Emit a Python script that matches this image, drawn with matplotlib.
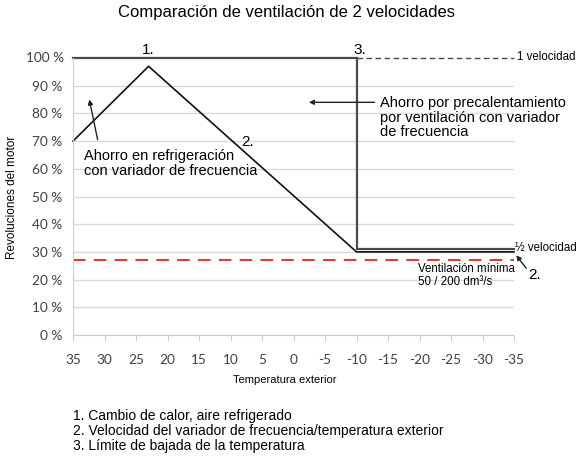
import matplotlib
matplotlib.use("Agg")
import matplotlib.pyplot as plt

plt.rcParams["font.family"] = ["Liberation Sans", "DejaVu Sans"]

# data
temp_vfd = [35, 23, -10, -35]          # variador de frecuencia
speed_vfd = [70, 97, 30, 30]
temp_1v = [35, -10]                    # 1 velocidad
speed_1v = [100, 100]
temp_1v_dash = [-10, -35]
speed_1v_dash = [100, 100]
temp_2v = [-10, -10, -35]              # 2 velocidades
speed_2v = [100, 31.2, 31.2]
temp_min = [35, -35]                   # ventilación mínima
speed_min = [27, 27]

x_ticks = [35, 30, 25, 20, 15, 10, 5, 0, -5, -10, -15, -20, -25, -30, -35]
x_labels = [str(v) for v in x_ticks]
y_ticks = [0, 10, 20, 30, 40, 50, 60, 70, 80, 90, 100]
y_labels = [f"{v} %" for v in y_ticks]

W, H = 580, 461
fig = plt.figure(figsize=(W / 100, H / 100), dpi=100)
ax = fig.add_axes([73 / W, 1 - 335 / H, 441 / W, 277 / H])

ax.set_xlim(35, -35)
ax.set_ylim(0, 100)
ax.set_yticks(y_ticks[:-1])
ax.set_yticklabels(y_labels[:-1])
ax.set_xticks(x_ticks)
ax.set_xticklabels(x_labels)
ax.grid(axis="y", color="#d9d9d9", linewidth=1.0)
ax.set_axisbelow(True)
for s in ["top", "right"]:
    ax.spines[s].set_visible(False)
for s in ["left", "bottom"]:
    ax.spines[s].set_color("#d0d0d0")
ax.tick_params(axis="y", length=0, pad=8, labelsize=9.8, labelcolor="#404040")
ax.tick_params(axis="x", length=4, color="#d0d0d0", pad=10, labelsize=9.8, labelcolor="#404040")
for lab in ax.get_xticklabels() + ax.get_yticklabels():
    lab.set_family(["Lato", "DejaVu Sans"])
# 100 % label drawn separately (axis top edge)
ax.text(-0.02, 100, y_labels[-1], transform=ax.get_yaxis_transform(), ha="right", va="center",
        fontsize=9.8, color="#404040", family=["Lato", "DejaVu Sans"])

ax.plot(temp_min, speed_min, color="#e03c31", linewidth=1.5, dashes=(6, 4))
ax.plot(temp_vfd, speed_vfd, color="#111111", linewidth=1.2, clip_on=False)
ax.plot(temp_2v, speed_2v, color="#4a4a4a", linewidth=1.6, solid_joinstyle="miter", clip_on=False)
ax.plot(temp_1v, speed_1v, color="#4a4a4a", linewidth=1.6, clip_on=False)
ax.plot(temp_1v_dash, speed_1v_dash, color="#4a4a4a", linewidth=1.0, dashes=(4, 2.5), clip_on=False)

ax.text(23, 100.5, "1.", ha="center", va="bottom", fontsize=11)
ax.text(8.3, 69.5, "2.", ha="left", va="center", fontsize=11)
ax.text(-10.5, 100.5, "3.", ha="center", va="bottom", fontsize=11)

ax.text(33.2, 62, "Ahorro en refrigeración\ncon variador de frecuencia", ha="left", va="center",
        fontsize=10.5, linespacing=1.05)
ax.annotate("", xy=(32.5, 86), xytext=(31.0, 69.5),
            arrowprops=dict(arrowstyle="-|>", color="#222222", lw=1.0, mutation_scale=7))

ax.text(-13.8, 78.5, "Ahorro por precalentamiento\npor ventilación con variador\nde frecuencia",
        ha="left", va="center", fontsize=10.5, linespacing=1.05)
ax.annotate("", xy=(-2.0, 84), xytext=(-13.3, 84),
            arrowprops=dict(arrowstyle="-|>", color="#222222", lw=1.0, mutation_scale=7))

ax.text(-35.4, 100.3, "1 velocidad", ha="left", va="center", fontsize=8.3)
ax.text(-35.2, 31.5, "½ velocidad", ha="left", va="center", fontsize=8.3)
ax.text(-19.8, 21.5, "Ventilación mínima\n50 / 200 dm³/s", ha="left", va="center", fontsize=8.3,
        linespacing=1.2)
ax.text(-37.2, 21.5, "2.", ha="left", va="center", fontsize=11)
ax.annotate("", xy=(-35.1, 29.6), xytext=(-37.2, 23.3),
            arrowprops=dict(arrowstyle="-|>", color="#222222", lw=1.0, mutation_scale=7),
            annotation_clip=False)

fig.text(286 / W, 1 - 13 / H, "Comparación de ventilación de 2 velocidades", ha="center", va="center",
         fontsize=12)
fig.text(12 / W, 1 - 197 / H, "Revoluciones del motor", ha="center", va="center", rotation=90,
         fontsize=8.5)
fig.text(285 / W, 1 - 380 / H, "Temperatura exterior", ha="center", va="center", fontsize=8)
fig.text(73 / W, 1 - 431 / H,
         "1. Cambio de calor, aire refrigerado\n"
         "2. Velocidad del variador de frecuencia/temperatura exterior\n"
         "3. Límite de bajada de la temperatura",
         ha="left", va="center", fontsize=10, linespacing=1.12)

fig.savefig("out.png", dpi=100)
